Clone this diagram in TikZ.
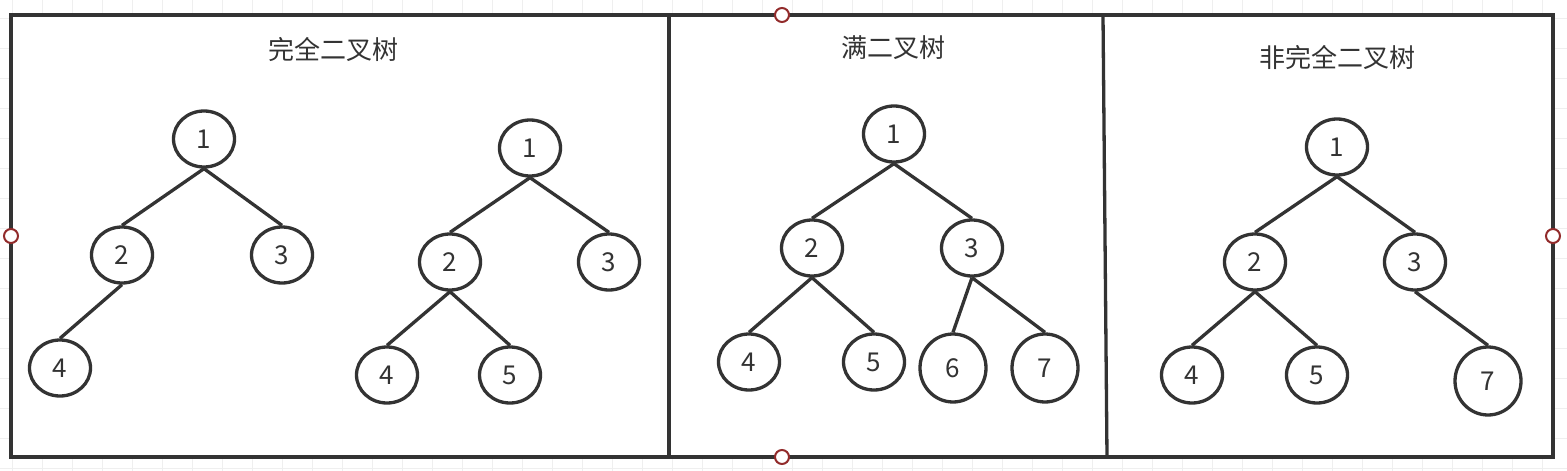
\documentclass[tikz,border=0pt]{standalone}
\usepackage{fontspec}
\newfontfamily\cjk{Noto Sans CJK SC}
\usetikzlibrary{shapes.geometric}
\definecolor{linegray}{HTML}{333333}
\definecolor{gridgray}{HTML}{EFEFEF}
\definecolor{handlered}{HTML}{922B2B}

\begin{document}
\begin{tikzpicture}[x=1pt,y=-1pt,
        bnode/.style={draw=linegray, line width=3.3pt, ellipse, inner sep=0pt, minimum width=61pt, minimum height=56pt, font=\cjk\fontsize{26}{26}\selectfont, text=linegray},
        bignode/.style={bnode, minimum width=66pt, minimum height=68pt},
        link/.style={draw=linegray, line width=3.3pt},
        frame/.style={draw=linegray, line width=3.3pt},
        title/.style={font=\cjk\fontsize{26}{26}\selectfont, text=linegray, inner sep=0pt},
        handle/.style={draw=handlered, line width=2pt, circle, fill=white, inner sep=0pt, minimum size=14pt}]
    \useasboundingbox (0,0) rectangle (1567,471);
    % canvas grid
    \fill[white] (0,0) rectangle (1567,471);
    \foreach \gx in {12,42,...,1567}
        \draw[gridgray, line width=1pt] (\gx,0) -- (\gx,471);
    \foreach \gy in {18,48,...,471}
        \draw[gridgray, line width=1pt] (0,\gy) -- (1567,\gy);

    % frame and dividers
    \draw[frame, fill=white] (11,15) rectangle (1553,457);
    \draw[frame] (669,15) -- (669,457);
    \draw[frame] (1103,15) -- (1107,457);

    % titles
    \node[title] (ta) at (333,49) {完全二叉树};
    \node[title] (tc) at (893,48) {满二叉树};
    \node[title] (td) at (1337,57) {非完全二叉树};

    % complete tree, first
    \node[bnode] (a1) at (204,139) {1};
    \node[bnode] (a2) at (122,255) {2};
    \node[bnode] (a3) at (282,255) {3};
    \node[bnode] (a4) at (60,368) {4};
    \draw[link] (a1.south) -- (a2.north);
    \draw[link] (a1.south) -- (a3.north);
    \draw[link] (a2.south) -- (a4.north);

    % complete tree, second
    \node[bnode] (b1) at (530,148) {1};
    \node[bnode] (b2) at (450,262) {2};
    \node[bnode] (b3) at (609,262) {3};
    \node[bnode] (b4) at (387,375) {4};
    \node[bnode] (b5) at (510,375) {5};
    \draw[link] (b1.south) -- (b2.north);
    \draw[link] (b1.south) -- (b3.north);
    \draw[link] (b2.south) -- (b4.north);
    \draw[link] (b2.south) -- (b5.north);

    % full tree
    \node[bnode] (c1) at (894,134) {1};
    \node[bnode] (c2) at (812,248) {2};
    \node[bnode] (c3) at (972,248) {3};
    \node[bnode] (c4) at (749,362) {4};
    \node[bnode] (c5) at (874,362) {5};
    \node[bignode] (c6) at (953,368) {6};
    \node[bignode] (c7) at (1045,368) {7};
    \draw[link] (c1.south) -- (c2.north);
    \draw[link] (c1.south) -- (c3.north);
    \draw[link] (c2.south) -- (c4.north);
    \draw[link] (c2.south) -- (c5.north);
    \draw[link] (c3.south) -- (c6.north);
    \draw[link] (c3.south) -- (c7.north);

    % not complete tree
    \node[bnode] (d1) at (1337,147) {1};
    \node[bnode] (d2) at (1255,262) {2};
    \node[bnode] (d3) at (1415,262) {3};
    \node[bnode] (d4) at (1192,375) {4};
    \node[bnode] (d5) at (1317,375) {5};
    \node[bignode] (d7) at (1488,381) {7};
    \draw[link] (d1.south) -- (d2.north);
    \draw[link] (d1.south) -- (d3.north);
    \draw[link] (d2.south) -- (d4.north);
    \draw[link] (d2.south) -- (d5.north);
    \draw[link] (d3.south) -- (d7.north);

    % selection handles
    \node[handle] (htop) at (782,15) {};
    \node[handle] (hbottom) at (782,457) {};
    \node[handle] (hleft) at (11,236) {};
    \node[handle] (hright) at (1553,236) {};
\end{tikzpicture}
\end{document}
